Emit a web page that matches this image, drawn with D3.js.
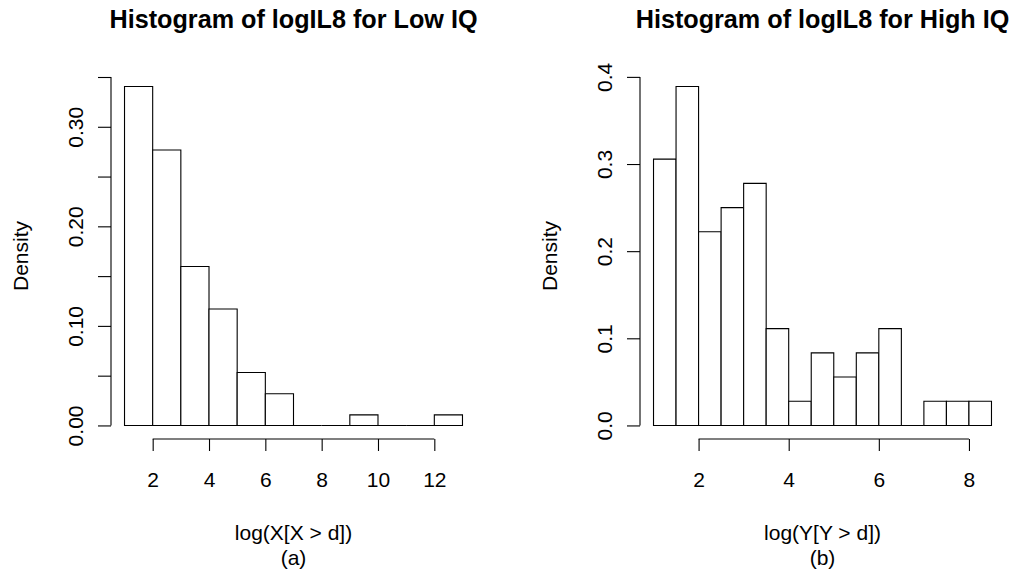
<!DOCTYPE html>
<html>
<head>
<meta charset="utf-8">
<script src="https://cdn.jsdelivr.net/npm/d3@7"></script>
<style>
  html, body { margin: 0; padding: 0; background: #fff; }
  svg { display: block; }
  text { font-family: "Liberation Sans", Arial, Helvetica, sans-serif; fill: #000; }
</style>
</head>
<body>
<svg id="chart" width="1021" height="580"></svg>
<script>
// ---- Data: Low IQ histogram (bin width 1, from 1 to 13) ----
const lowBreaks = [1, 2, 3, 4, 5, 6, 7, 8, 9, 10, 11, 12, 13];
const lowDensity = [0.3404, 0.2766, 0.1596, 0.1170, 0.0532, 0.0319, 0, 0, 0.0106, 0, 0, 0.0106];
const lowXTicks = [2, 4, 6, 8, 10, 12];
const lowYTicks = [0, 0.05, 0.10, 0.15, 0.20, 0.25, 0.30, 0.35];
const lowYLabeled = [0, 0.10, 0.20, 0.30];

// ---- Data: High IQ histogram (bin width 0.5, from 1 to 8.5) ----
const highBreaks = [1, 1.5, 2, 2.5, 3, 3.5, 4, 4.5, 5, 5.5, 6, 6.5, 7, 7.5, 8, 8.5];
const highDensity = [0.3056, 0.3889, 0.2222, 0.2500, 0.2778, 0.1111, 0.0278, 0.0833, 0.0556, 0.0833, 0.1111, 0, 0.0278, 0.0278, 0.0278];
const highXTicks = [2, 4, 6, 8];
const highYTicks = [0, 0.1, 0.2, 0.3, 0.4];

const titles = ["Histogram of logIL8 for Low IQ", "Histogram of logIL8 for High IQ"];
const xLabels = ["log(X[X > d])", "log(Y[Y > d])"];
const subLabels = ["(a)", "(b)"];
const yLabel = "Density";

const svg = d3.select("#chart");
const FS = 21;

function panel(opts) {
  const { left, right, top, bottom, breaks, dens, xTicks, yTicks, yFmt, yShow, title, xlab, sub } = opts;
  const xMin = breaks[0], xMax = breaks[breaks.length - 1];
  const xPad = (xMax - xMin) * 0.04;
  const yMax = d3.max(dens);
  const yPad = yMax * 0.04;
  const x = d3.scaleLinear().domain([xMin - xPad, xMax + xPad]).range([left, right]);
  const y = d3.scaleLinear().domain([-yPad, yMax + yPad]).range([bottom, top]);
  const g = svg.append("g");

  const bins = dens.map((d, i) => ({ x0: breaks[i], x1: breaks[i + 1], d }));
  g.selectAll("path.bar").data(bins).enter().append("path")
    .attr("class", "bar")
    .attr("d", b => `M${x(b.x0)},${y(0)}V${y(b.d)}H${x(b.x1)}V${y(0)}Z`)
    .attr("fill", "#fff")
    .attr("stroke", "#000")
    .attr("stroke-width", 1.1);

  // x axis
  const xa = g.append("g").attr("transform", `translate(0,${bottom})`)
    .call(d3.axisBottom(x).tickValues(xTicks).tickSize(12).tickSizeOuter(0).tickFormat(d3.format("d")));
  xa.select(".domain").remove();
  xa.append("line")
    .attr("x1", x(xTicks[0])).attr("x2", x(xTicks[xTicks.length - 1]))
    .attr("y1", 0).attr("y2", 0).attr("stroke", "#000").attr("stroke-width", 1.1);
  xa.selectAll(".tick line").attr("stroke", "#000").attr("stroke-width", 1.1);
  xa.selectAll(".tick text").attr("y", 47.7).attr("dy", null)
    .attr("font-size", FS).attr("font-family", "Liberation Sans, Arial, sans-serif").attr("fill", "#000");

  // y axis
  const ya = g.append("g").attr("transform", `translate(${left},0)`)
    .call(d3.axisLeft(y).tickValues(yTicks).tickSize(13).tickSizeOuter(0)
      .tickFormat(v => yShow.some(s => Math.abs(s - v) < 1e-9) ? d3.format(yFmt)(v) : ""));
  ya.select(".domain").remove();
  ya.append("line")
    .attr("x1", 0).attr("x2", 0)
    .attr("y1", y(yTicks[0])).attr("y2", y(yTicks[yTicks.length - 1]))
    .attr("stroke", "#000").attr("stroke-width", 1.1);
  ya.selectAll(".tick line").attr("stroke", "#000").attr("stroke-width", 1.1);
  ya.selectAll(".tick text")
    .attr("x", null).attr("dy", null)
    .attr("transform", "translate(-27.7,0) rotate(-90)")
    .attr("text-anchor", "middle")
    .attr("font-size", FS).attr("font-family", "Liberation Sans, Arial, sans-serif").attr("fill", "#000");

  const cx = (left + right) / 2;
  g.append("text").attr("x", cx).attr("y", 28.3).attr("text-anchor", "middle")
    .attr("font-size", FS * 1.2).attr("font-weight", "bold").text(title);
  g.append("text").attr("x", cx).attr("y", 540).attr("text-anchor", "middle")
    .attr("font-size", FS).text(xlab);
  g.append("text").attr("x", cx).attr("y", 565).attr("text-anchor", "middle")
    .attr("font-size", FS).text(sub);
  g.append("text")
    .attr("transform", `translate(${left - 82.7},${(top + bottom) / 2}) rotate(-90)`)
    .attr("text-anchor", "middle").attr("font-size", FS).text(yLabel);
}

panel({ left: 111, right: 476, top: 73, bottom: 439,
  breaks: lowBreaks, dens: lowDensity, xTicks: lowXTicks, yTicks: lowYTicks,
  yFmt: ".2f", yShow: lowYLabeled, title: titles[0], xlab: xLabels[0], sub: subLabels[0] });

panel({ left: 640, right: 1005, top: 73, bottom: 439,
  breaks: highBreaks, dens: highDensity, xTicks: highXTicks, yTicks: highYTicks,
  yFmt: ".1f", yShow: highYTicks, title: titles[1], xlab: xLabels[1], sub: subLabels[1] });
</script>
</body>
</html>
